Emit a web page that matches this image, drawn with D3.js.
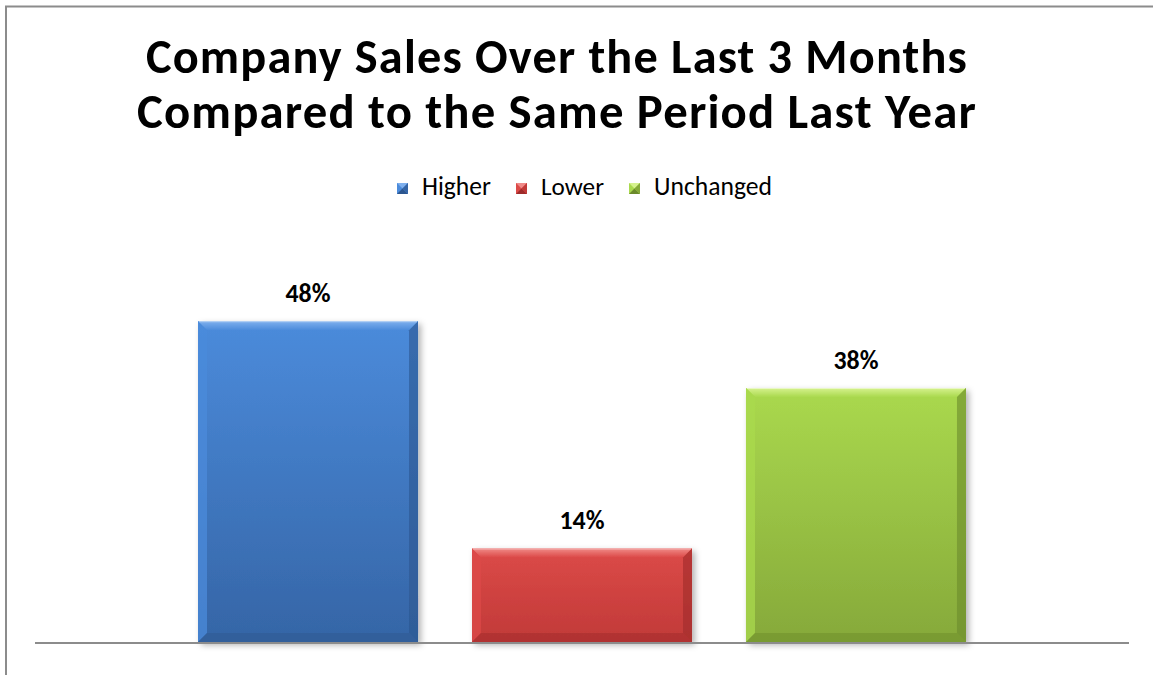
<!DOCTYPE html>
<html>
<head>
<meta charset="utf-8">
<script src="https://cdn.jsdelivr.net/npm/d3@7"></script>
<style>
  html, body { margin: 0; padding: 0; background: #fff; }
  svg { display: block; }
  text { font-family: Carlito, Calibri, Lato, "Open Sans", sans-serif; }
</style>
</head>
<body>
<svg id="chart" width="1153" height="675"></svg>
<script>
// --- data ---
var titleLines = ['Company Sales Over the Last 3 Months', 'Compared to the Same Period Last Year'];
var series = ['Higher', 'Lower', 'Unchanged'];
var values = [48, 14, 38];
var yTicks = [0, 10, 20, 30, 40, 50, 60]; // hidden axis, max 60%

// colours: [top, bottom, light bevel, dark bevel]
var palette = {
    Higher:    ['#4b8bdb', '#3565a6', '#7fb0ee', '#2c568f'],
    Lower:     ['#dc4a48', '#c13a38', '#f08a88', '#9e2b2a'],
    Unchanged: ['#aad94e', '#86a93a', '#d6f28e', '#6b8a2b']
};

var W = 1153, H = 675;
var plot = { left: 35, right: 1129, top: 241, bottom: 642 };
var svg = d3.select('#chart');
var defs = svg.append('defs');

// shadow
var f = defs.append('filter').attr('id', 'shadow')
    .attr('x', '-10%').attr('y', '-10%').attr('width', '130%').attr('height', '130%');
f.append('feDropShadow').attr('dx', 3).attr('dy', 3).attr('stdDeviation', 3)
    .attr('flood-color', '#000').attr('flood-opacity', 0.3);

series.forEach(function (s) {
    var c = palette[s];
    var g = defs.append('linearGradient').attr('id', 'grad-' + s)
        .attr('x1', 0).attr('y1', 0).attr('x2', 0).attr('y2', 1);
    g.append('stop').attr('offset', '0%').attr('stop-color', c[0]);
    g.append('stop').attr('offset', '100%').attr('stop-color', c[1]);
    var t = defs.append('linearGradient').attr('id', 'top-' + s)
        .attr('x1', 0).attr('y1', 0).attr('x2', 0).attr('y2', 1);
    t.append('stop').attr('offset', '0%').attr('stop-color', c[2]);
    t.append('stop').attr('offset', '100%').attr('stop-color', c[0]);
});

// size a text so it spans the width
function fitWidth(t, size, target) {
    var len = t.node().getComputedTextLength();
    t.attr('font-size', size * target / len);
}

// chart-area border (extends past the window)
svg.append('path')
    .attr('d', 'M6,' + (H + 5) + 'V6.5H' + (W + 5))
    .attr('fill', 'none').attr('stroke', '#8c8c8c').attr('stroke-width', 2);

// title: mostly font size, a little letter spacing for the rest
var titleWidths = [821, 839];
titleLines.forEach(function (line, i) {
    var t = svg.append('text')
        .attr('x', 557).attr('y', 73 + i * 55)
        .attr('text-anchor', 'middle')
        .attr('font-weight', 700)
        .attr('font-size', 40)
        .attr('fill', '#000')
        .text(line);
    var len = t.node().getComputedTextLength();
    var size = 40 * titleWidths[i] / len * 0.95;
    t.attr('font-size', size);
    len = t.node().getComputedTextLength();
    t.attr('letter-spacing', ((titleWidths[i] - len) / (line.length - 1)).toFixed(2));
});

// scales
var x = d3.scaleBand().domain(series)
    .range([plot.left, plot.right])
    .paddingInner(0.197).paddingOuter(0.595);
var y = d3.scaleLinear().domain([0, d3.max(yTicks)]).range([plot.bottom, plot.top]);

// bars with bevel
var bev = 9;
var bars = svg.append('g').selectAll('g').data(series).join('g')
    .attr('filter', 'url(#shadow)');

bars.each(function (s, i) {
    var g = d3.select(this);
    var c = palette[s];
    var x0 = x(s), x1 = x(s) + x.bandwidth();
    var y0 = y(values[i]), y1 = y(0);
    g.append('rect')
        .attr('x', x0).attr('y', y0).attr('width', x1 - x0).attr('height', y1 - y0)
        .attr('fill', 'url(#grad-' + s + ')');
    // top bevel
    g.append('path')
        .attr('d', 'M' + x0 + ',' + y0 + 'H' + x1 + 'L' + (x1 - bev) + ',' + (y0 + bev) +
            'H' + (x0 + bev) + 'Z')
        .attr('fill', 'url(#top-' + s + ')');
    // left bevel
    g.append('path')
        .attr('d', 'M' + x0 + ',' + y0 + 'L' + (x0 + bev) + ',' + (y0 + bev) +
            'V' + (y1 - bev) + 'L' + x0 + ',' + y1 + 'Z')
        .attr('fill', c[0]).attr('opacity', 0.75);
    // right bevel
    g.append('path')
        .attr('d', 'M' + x1 + ',' + y0 + 'L' + (x1 - bev) + ',' + (y0 + bev) +
            'V' + (y1 - bev) + 'L' + x1 + ',' + y1 + 'Z')
        .attr('fill', c[3]).attr('opacity', 0.6);
    // bottom bevel
    g.append('path')
        .attr('d', 'M' + x0 + ',' + y1 + 'L' + (x0 + bev) + ',' + (y1 - bev) +
            'H' + (x1 - bev) + 'L' + x1 + ',' + y1 + 'Z')
        .attr('fill', c[3]).attr('opacity', 0.45);
    // thin highlight line at top edge
    g.append('line')
        .attr('x1', x0 + 1).attr('x2', x1 - 1).attr('y1', y0 + 0.5).attr('y2', y0 + 0.5)
        .attr('stroke', '#fff').attr('stroke-opacity', 0.5);
});

// value labels
svg.append('g').selectAll('text').data(series).join('text')
    .attr('x', function (s) { return x(s) + x.bandwidth() / 2; })
    .attr('y', function (s, i) { return y(values[i]) - 19; })
    .attr('text-anchor', 'middle')
    .attr('font-weight', 700)
    .attr('font-size', 21)
    .attr('fill', '#000')
    .text(function (s, i) { return values[i] + '%'; })
    .each(function () { fitWidth(d3.select(this), 21, 45); });

// category axis line
svg.append('line')
    .attr('x1', plot.left).attr('x2', plot.right)
    .attr('y1', plot.bottom + 1).attr('y2', plot.bottom + 1)
    .attr('stroke', '#8c8c8c').attr('stroke-width', 2);

// legend
var legendX = [397, 516, 629];
var legendW = [69, 63, 118];
var legend = svg.append('g').selectAll('g').data(series).join('g')
    .attr('transform', function (s, i) { return 'translate(' + legendX[i] + ',183)'; });
var m = 11;
legend.each(function (s, i) {
    var g = d3.select(this);
    var c = palette[s];
    g.append('rect').attr('width', m).attr('height', m).attr('fill', c[0]);
    g.append('path').attr('d', 'M0,0H' + m + 'L' + (m / 2) + ',' + (m / 2) + 'Z').attr('fill', c[2]);
    g.append('path').attr('d', 'M0,' + m + 'H' + m + 'L' + (m / 2) + ',' + (m / 2) + 'Z').attr('fill', c[3]);
    g.append('path').attr('d', 'M' + m + ',0V' + m + 'L' + (m / 2) + ',' + (m / 2) + 'Z').attr('fill', c[1]);
    var t = g.append('text')
        .attr('x', 25).attr('y', 12)
        .attr('font-size', 20)
        .attr('fill', '#000')
        .text(s);
    fitWidth(t, 20, legendW[i]);
});
</script>
</body>
</html>
